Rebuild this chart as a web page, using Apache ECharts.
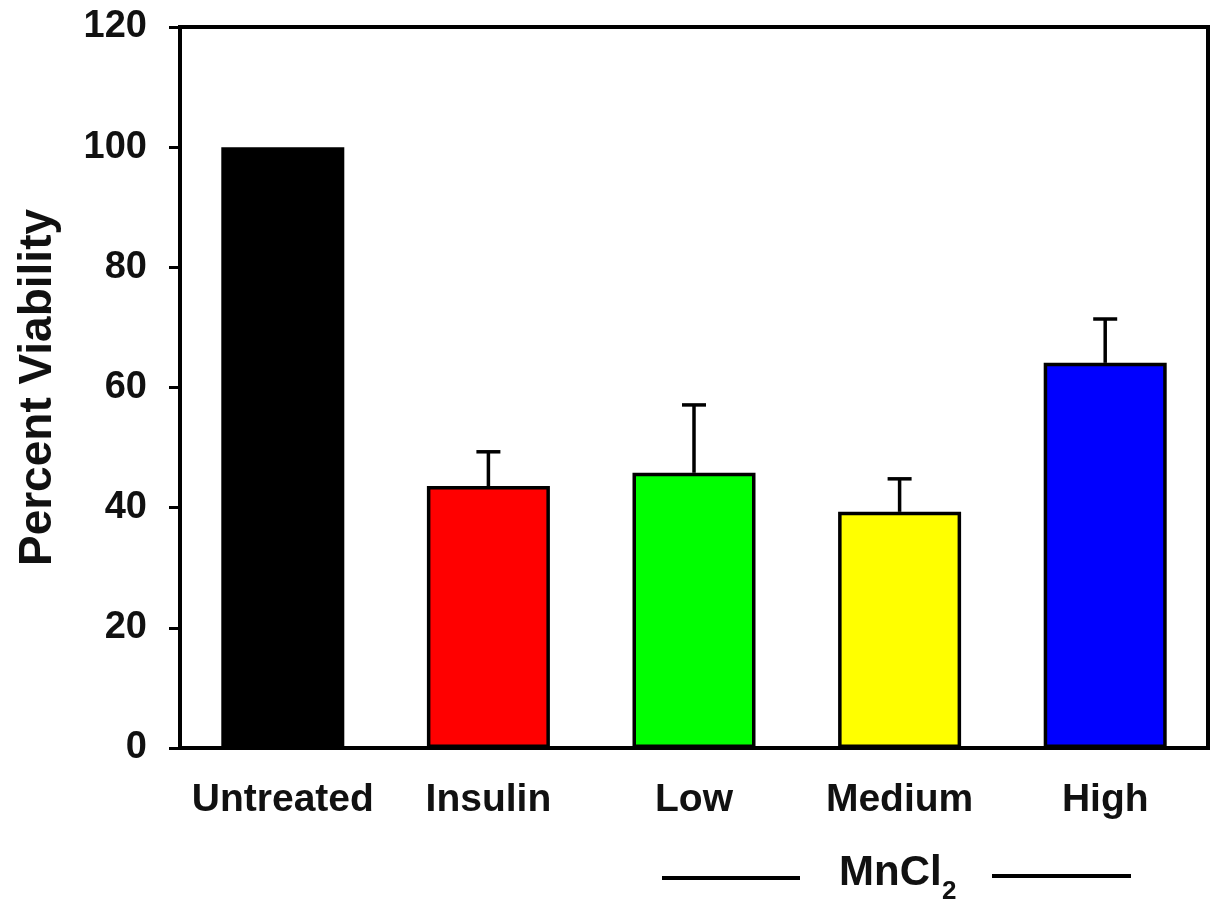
<!DOCTYPE html>
<html>
<head>
<meta charset="utf-8">
<script src="https://cdn.jsdelivr.net/npm/echarts@6/dist/echarts.min.js"></script>
<style>
  html, body { margin: 0; padding: 0; background: #fff; }
  #chart { width: 1216px; height: 909px; }
</style>
</head>
<body>
<div id="chart"></div>
<script>
// data
const categories = ['Untreated', 'Insulin', 'Low', 'Medium', 'High'];
const viability = [100, 43.6, 45.8, 39.3, 64.1];
const errUp = [0, 5.7, 11.3, 5.5, 7.3];
const barColors = ['#000000', '#ff0000', '#00ff00', '#ffff00', '#0000ff'];
const yTicks = { min: 0, max: 120, interval: 20 };

const chart = echarts.init(document.getElementById('chart'));
const font = 'Liberation Sans, Arial, sans-serif';

const option = {
  backgroundColor: '#fff',
  animation: false,
  grid: {
    left: 180, right: 8, top: 27, bottom: 161,
    containLabel: false, outerBoundsMode: 'none',
    show: true, borderColor: '#000', borderWidth: 4, backgroundColor: 'transparent'
  },
  xAxis: {
    type: 'category',
    data: categories,
    axisLine: { lineStyle: { color: '#000', width: 4 } },
    axisTick: { alignWithLabel: true, length: 11, lineStyle: { color: '#000', width: 3 } },
    axisLabel: { interval: 0, color: '#111', fontFamily: font, fontWeight: 'bold', fontSize: 39, margin: 33 }
  },
  yAxis: {
    type: 'value',
    min: yTicks.min, max: yTicks.max, interval: yTicks.interval,
    name: 'Percent Viability',
    nameLocation: 'middle',
    nameGap: 119,
    nameTextStyle: { color: '#111', fontFamily: font, fontWeight: 'bold', fontSize: 46 },
    axisLine: { show: true, lineStyle: { color: '#000', width: 4 } },
    axisTick: { show: true, length: 11, lineStyle: { color: '#000', width: 3 } },
    axisLabel: { color: '#111', fontFamily: font, fontWeight: 'bold', fontSize: 38, margin: 33 },
    splitLine: { show: false }
  },
  series: [
    {
      type: 'bar',
      barWidth: 123,
      data: viability.map((v, i) => ({
        value: v,
        itemStyle: { color: barColors[i], borderColor: '#000', borderWidth: 3.5 }
      })),
      z: 2
    },
    {
      // upward error bars with caps
      type: 'custom',
      z: 3,
      data: viability.map((v, i) => [i, v, v + errUp[i]]),
      renderItem: (params, api) => {
        if (api.value(2) === api.value(1)) return null;
        const base = api.coord([api.value(0), api.value(1)]);
        const top = api.coord([api.value(0), api.value(2)]);
        const half = 12;
        const style = { stroke: '#000', lineWidth: 3.5 };
        return {
          type: 'group',
          children: [
            { type: 'line', shape: { x1: base[0], y1: base[1], x2: top[0], y2: top[1] }, style },
            { type: 'line', shape: { x1: top[0] - half, y1: top[1], x2: top[0] + half, y2: top[1] }, style }
          ]
        };
      }
    }
  ],
  graphic: [
    { type: 'line', shape: { x1: 662, y1: 878, x2: 800, y2: 878 }, style: { stroke: '#000', lineWidth: 4 } },
    { type: 'line', shape: { x1: 992, y1: 876, x2: 1131, y2: 876 }, style: { stroke: '#000', lineWidth: 4 } },
    {
      type: 'text', left: 839, top: 852,
      style: { text: 'MnCl', fill: '#111', font: 'bold 42px ' + font }
    },
    {
      type: 'text', left: 942, top: 879,
      style: { text: '2', fill: '#111', font: 'bold 26px ' + font }
    }
  ]
};

chart.setOption(option);
</script>
</body>
</html>
